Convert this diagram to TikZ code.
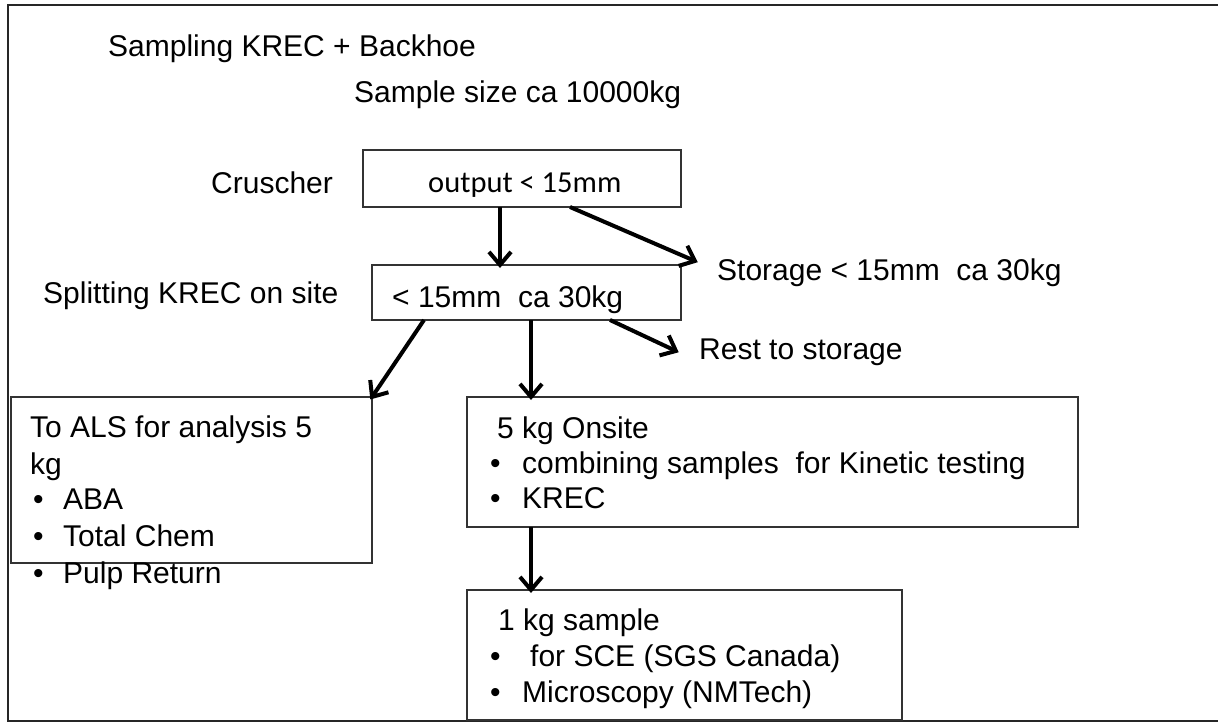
\documentclass[tikz,border=0pt]{standalone}
\usepackage{fontspec}
\setmainfont{Liberation Sans}
\newfontfamily\calib{Carlito}
\usetikzlibrary{arrows.meta}
\tikzset{
  txt/.style={anchor=west, inner sep=0pt, font=\fontsize{30}{36}\selectfont, text height=21.5pt, text depth=0pt},
  ctxt/.style={anchor=west, inner sep=0pt, font=\calib\fontsize{30.5}{36}\selectfont, text height=19.6pt, text depth=0pt},
  boxx/.style={draw=black!80, line width=1.5pt, anchor=north west, inner sep=0pt, outer sep=0pt},
  arr/.style={line width=4pt, shorten >=-3pt, -{Straight Barb[length=13pt,width=22pt]}},
}
\newcommand{\bul}[1]{\makebox[#1][l]{•}}
\begin{document}
\begin{tikzpicture}[x=1pt,y=-1pt]
\useasboundingbox (0,0) rectangle (1218,722);
\begin{scope}
\clip (0,0) rectangle (1218,722);
\draw[line width=2pt, black!85] (8,5) rectangle (1240,721);
\end{scope}

% boxes
\node[boxx, minimum width=318pt, minimum height=57pt] (crusher) at (363,150) {};
\node[boxx, minimum width=309pt, minimum height=55pt] (split) at (372,265) {};
\node[boxx, minimum width=361pt, minimum height=166pt] (als) at (11,397) {};
\node[boxx, minimum width=611pt, minimum height=130pt] (onsite) at (467,397) {};
\node[boxx, minimum width=435pt, minimum height=130pt] (onekg) at (467,590) {};

% texts
\node[txt] (t1) at (108,46) {Sampling KREC + Backhoe};
\node[txt] (t2) at (354,92) {Sample size ca 10000kg};
\node[txt] (cr) at (211,183) {Cruscher};
\node[ctxt] (out) at (428,183) {output < 15mm};
\node[txt] (sto) at (717,270) {Storage < 15mm\ \ ca 30kg};
\node[txt] (spl) at (43,293) {Splitting KREC on site};
\node[txt] (b2t) at (392,297) {< 15mm\ \ ca 30kg};
\node[txt] (rest) at (699,349) {Rest to storage};

\node[txt] (a1) at (30,427) {To ALS for analysis 5};
\node[txt] (a2) at (30,464) {kg};
\node[txt] (a3) at (33,499) {\bul{30pt}ABA};
\node[txt] (a4) at (33,536) {\bul{30pt}Total Chem};
\node[txt] (a5) at (33,573) {\bul{30pt}Pulp Return};

\node[txt] (o1) at (497,428) {5 kg Onsite};
\node[txt] (o2) at (490,463) {\bul{32pt}combining samples\ \ for Kinetic testing};
\node[txt] (o3) at (490,498) {\bul{32pt}KREC};

\node[txt] (k1) at (498,620) {1 kg sample};
\node[txt] (k2) at (490,656) {\bul{40pt}for SCE (SGS Canada)};
\node[txt] (k3) at (490,692) {\bul{32pt}Microscopy (NMTech)};

% free arrow ends
\coordinate (stoend) at (695,261);
\coordinate (restend) at (676,351);

% connectors
\draw[arr] ([xshift=-22pt]crusher.south) -- ([xshift=-26.5pt]split.north);
\draw[arr] ([xshift=48pt]crusher.south) -- (stoend);
\draw[arr] ([xshift=-102.5pt]split.south) -- (als.north east);
\draw[arr] ([xshift=4.5pt]split.south) -- ([xshift=-241.5pt]onsite.north);
\draw[arr] ([xshift=83.5pt]split.south) -- (restend);
\draw[arr] ([xshift=-241.5pt]onsite.south) -- ([xshift=-153.5pt]onekg.north);
\end{tikzpicture}
\end{document}
